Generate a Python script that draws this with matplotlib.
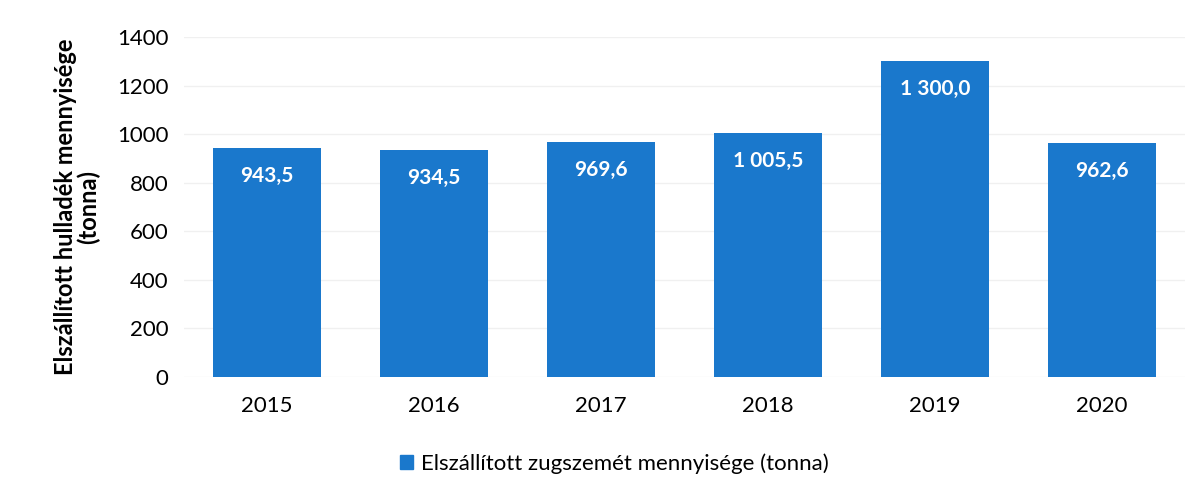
import matplotlib
matplotlib.use("Agg")
import matplotlib.pyplot as plt
from matplotlib.patches import Patch

years = ["2015", "2016", "2017", "2018", "2019", "2020"]
values = [943.5, 934.5, 969.6, 1005.5, 1300.0, 962.6]
labels = ["943,5", "934,5", "969,6", "1 005,5", "1 300,0", "962,6"]
yticks = [0, 200, 400, 600, 800, 1000, 1200, 1400]

plt.rcParams['font.family'] = ['Lato', 'DejaVu Sans']
blue = '#1a78cc'

fig = plt.figure(figsize=(12.01, 4.93), dpi=100)
ax = fig.add_axes([0.1528, 0.2353, 0.8342, 0.6897])

x = range(len(years))
bars = ax.bar(x, values, width=0.65, color=blue, zorder=2)
for b, lab in zip(bars, labels):
    ax.annotate(lab, (b.get_x() + b.get_width() / 2, b.get_height()),
                xytext=(0, -28), textcoords='offset pixels',
                ha='center', va='center', color='white', fontsize=15, fontweight='bold')

ax.set_xlim(-0.5, len(years) - 0.5)
ax.set_ylim(0, 1400)
ax.set_yticks(yticks)
ax.set_yticklabels([str(t) for t in yticks], fontsize=16)
ax.set_xticks(list(x))
ax.set_xticklabels(years, fontsize=16)
ax.tick_params(length=0)
ax.tick_params(axis='x', pad=14)
ax.tick_params(axis='y', pad=11)
ax.grid(axis='y', color='#f0f0f0', linewidth=1, zorder=0)
for s in ax.spines.values():
    s.set_visible(False)

ax.set_ylabel("Elszállított hulladék mennyisége\n(tonna)", fontsize=17,
              fontweight='bold', labelpad=12, multialignment='center',
              linespacing=1.0)

ax.legend(handles=[Patch(color=blue, label="Elszállított zugszemét mennyisége (tonna)")],
          loc='center', bbox_to_anchor=(0.43, -0.255), frameon=False, fontsize=16,
          handlelength=0.6, handleheight=0.6, handletextpad=0.35)

fig.savefig("out.png", dpi=100)
